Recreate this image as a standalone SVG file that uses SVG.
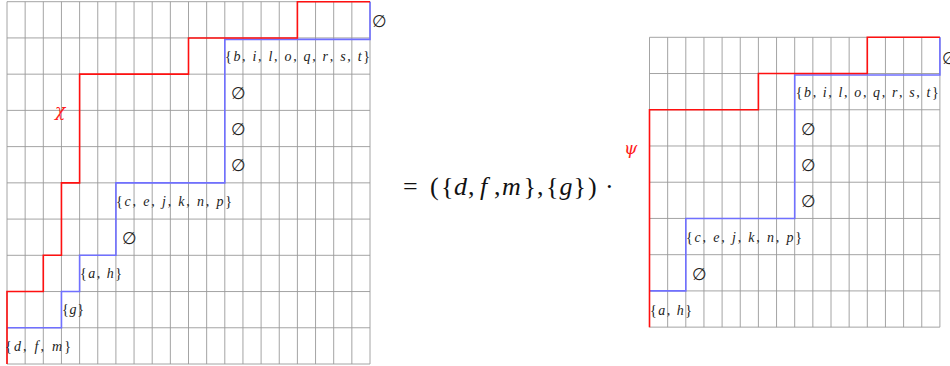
<svg xmlns="http://www.w3.org/2000/svg" width="950" height="366" viewBox="0 0 950 366">
<style>
.grid{fill:none;stroke:#9a9a9a;stroke-width:0.9}
.red{fill:none;stroke:#ff1010;stroke-width:1.6}
.blue{fill:none;stroke:#7070ff;stroke-width:1.6}
.lbl{font-family:"Liberation Serif","DejaVu Serif",serif;font-size:14px;fill:#222}
.lbl tspan.i{font-style:italic}
.es{font-family:"DejaVu Serif","DejaVu Sans",serif;font-size:17px;fill:#222}
.greek{font-family:"DejaVu Serif","Liberation Serif",serif;font-style:italic;font-size:17px;fill:#ff2020}
.eq{font-family:"Liberation Serif","DejaVu Serif",serif;font-size:26px;fill:#111}
.eq tspan.i{font-style:italic}
</style>
<rect width="950" height="366" fill="#fff"/>
<g id="left-grid">
<path class="grid" d="M7,1.7V364M25.15,1.7V364M43.3,1.7V364M61.45,1.7V364M79.6,1.7V364M97.75,1.7V364M115.9,1.7V364M134.05,1.7V364M152.2,1.7V364M170.35,1.7V364M188.5,1.7V364M206.65,1.7V364M224.8,1.7V364M242.95,1.7V364M261.1,1.7V364M279.25,1.7V364M297.4,1.7V364M315.55,1.7V364M333.7,1.7V364M351.85,1.7V364M370,1.7V364M7,1.7H370M7,37.93H370M7,74.16H370M7,110.39H370M7,146.62H370M7,182.85H370M7,219.08H370M7,255.31H370M7,291.54H370M7,327.77H370M7,364H370"/>
<path class="blue" d="M7,327.77H61.45V291.54H79.6V255.31H115.9V182.85H224.8V39.4H370V1.7"/>
<path class="red" d="M7,364V291.54H43.3V255.31H61.45V182.85H79.6V74.16H188.5V37.93H297.4V1.7H370"/>
<text class="greek" x="55" y="116">χ</text>
<text class="es" x="372" y="26.5">∅</text>
<text class="lbl" x="225" y="61" textLength="145" lengthAdjust="spacing">{<tspan class="i">b</tspan>, <tspan class="i">i</tspan>, <tspan class="i">l</tspan>, <tspan class="i">o</tspan>, <tspan class="i">q</tspan>, <tspan class="i">r</tspan>, <tspan class="i">s</tspan>, <tspan class="i">t</tspan>}</text>
<text class="es" x="231" y="98.8">∅</text>
<text class="es" x="231" y="135">∅</text>
<text class="es" x="231" y="171.2">∅</text>
<text class="lbl" x="116" y="206" textLength="116" lengthAdjust="spacing">{<tspan class="i">c</tspan>, <tspan class="i">e</tspan>, <tspan class="i">j</tspan>, <tspan class="i">k</tspan>, <tspan class="i">n</tspan>, <tspan class="i">p</tspan>}</text>
<text class="es" x="122" y="243.5">∅</text>
<text class="lbl" x="80" y="277.5" textLength="42" lengthAdjust="spacing">{<tspan class="i">a</tspan>, <tspan class="i">h</tspan>}</text>
<text class="lbl" x="62" y="314" textLength="22" lengthAdjust="spacing">{<tspan class="i">g</tspan>}</text>
<text class="lbl" x="5" y="351" textLength="66" lengthAdjust="spacing">{<tspan class="i">d</tspan>, <tspan class="i">f</tspan>, <tspan class="i">m</tspan>}</text>
</g>
<g id="equation">
<text class="eq" y="195"><tspan x="403">=</tspan><tspan x="430">(</tspan><tspan x="441">{</tspan><tspan class="i" x="454">d</tspan><tspan x="468">,</tspan><tspan class="i" x="480">f</tspan><tspan x="494">,</tspan><tspan class="i" x="502">m</tspan><tspan x="523.5">}</tspan><tspan x="537">,</tspan><tspan x="546">{</tspan><tspan class="i" x="559.5">g</tspan><tspan x="573.5">}</tspan><tspan x="588">)</tspan><tspan x="605">·</tspan></text>
</g>
<g id="right-grid">
<path class="grid" d="M649.5,37.3V327.14M667.65,37.3V327.14M685.8,37.3V327.14M703.95,37.3V327.14M722.1,37.3V327.14M740.25,37.3V327.14M758.4,37.3V327.14M776.55,37.3V327.14M794.7,37.3V327.14M812.85,37.3V327.14M831,37.3V327.14M849.15,37.3V327.14M867.3,37.3V327.14M885.45,37.3V327.14M903.6,37.3V327.14M921.75,37.3V327.14M939.9,37.3V327.14M649.5,37.3H939.9M649.5,73.53H939.9M649.5,109.76H939.9M649.5,145.99H939.9M649.5,182.22H939.9M649.5,218.45H939.9M649.5,254.68H939.9M649.5,290.91H939.9M649.5,327.14H939.9"/>
<path class="blue" d="M649.5,290.91H685.8V218.45H794.7V75H939.9V37.3"/>
<path class="red" d="M649.5,327.14V109.76H758.4V73.53H867.3V37.3H939.9"/>
<text class="greek" x="624" y="154">ψ</text>
<text class="es" x="942" y="63.5">∅</text>
<text class="lbl" x="795.7" y="97" textLength="143" lengthAdjust="spacing">{<tspan class="i">b</tspan>, <tspan class="i">i</tspan>, <tspan class="i">l</tspan>, <tspan class="i">o</tspan>, <tspan class="i">q</tspan>, <tspan class="i">r</tspan>, <tspan class="i">s</tspan>, <tspan class="i">t</tspan>}</text>
<text class="es" x="801" y="134.8">∅</text>
<text class="es" x="801" y="171">∅</text>
<text class="es" x="801" y="207.2">∅</text>
<text class="lbl" x="686" y="241.5" textLength="116" lengthAdjust="spacing">{<tspan class="i">c</tspan>, <tspan class="i">e</tspan>, <tspan class="i">j</tspan>, <tspan class="i">k</tspan>, <tspan class="i">n</tspan>, <tspan class="i">p</tspan>}</text>
<text class="es" x="692" y="279.5">∅</text>
<text class="lbl" x="650" y="315" textLength="42" lengthAdjust="spacing">{<tspan class="i">a</tspan>, <tspan class="i">h</tspan>}</text>
</g>
</svg>
